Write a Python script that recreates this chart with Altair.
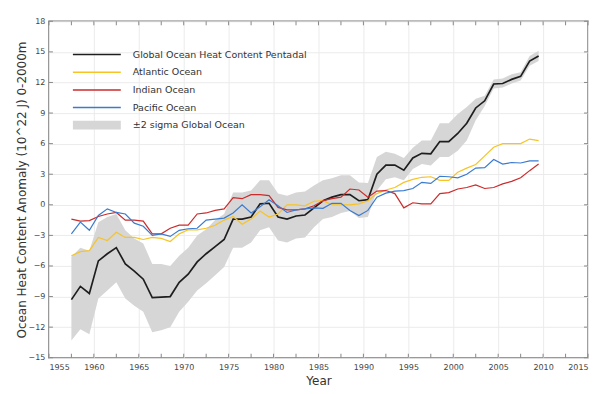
import altair as alt
import pandas as pd

years = [1957.5 + i for i in range(53)]

global_ohc = [-9.3, -8.0, -8.7, -5.5, -4.8, -4.2, -5.8, -6.5, -7.3, -9.1,
              -9.05, -9.0, -7.6, -6.8, -5.6, -4.8, -4.1, -3.4, -1.4, -1.4,
              -1.2, 0.1, 0.15, -1.2, -1.4, -1.1, -1.0, -0.3, 0.4, 0.75,
              1.0, 1.0, 0.4, 0.5, 3.0, 3.9, 3.9, 3.4, 4.6, 5.05,
              5.0, 6.2, 6.2, 7.0, 8.0, 9.5, 10.2, 11.85, 11.9, 12.3,
              12.6, 14.1, 14.6]
band_upper = [-5.1, -4.2, -4.5, -1.7, -1.2, -0.9, -2.5, -3.3, -3.8, -5.8,
              -5.8, -6.0, -5.0, -4.2, -3.0, -2.4, -1.5, -0.9, 1.2, 1.2,
              1.4, 2.4, 2.4, 1.1, 0.9, 1.2, 1.3, 1.9, 2.4, 2.6,
              2.9, 2.9, 2.2, 2.15, 4.7, 5.2, 5.0, 4.6, 5.6, 6.3,
              6.3, 8.0, 8.0, 8.9, 9.6, 10.4, 10.7, 12.3, 12.4, 12.8,
              13.0, 14.6, 15.1]
band_lower = [-13.3, -12.2, -12.7, -9.2, -8.4, -7.6, -9.2, -9.9, -10.5, -12.5,
              -12.3, -12.0, -10.5, -9.5, -8.4, -7.7, -6.9, -6.1, -4.2, -4.2,
              -3.7, -2.5, -2.2, -3.5, -3.7, -3.3, -3.2, -2.2, -1.4, -1.2,
              -0.8, -0.6, -1.3, -1.2, 1.4, 2.5, 2.7, 2.4, 3.5, 4.0,
              3.85, 4.7, 4.7, 5.3, 6.3, 8.3, 9.7, 11.4, 11.5, 11.9,
              12.2, 13.65, 14.1]
atlantic = [-5.0, -4.6, -4.5, -3.2, -3.5, -2.7, -3.2, -3.2, -3.4, -3.2,
            -3.3, -3.6, -2.85, -2.45, -2.45, -2.3, -2.0, -1.5, -1.15, -1.9,
            -1.4, -0.6, -1.2, -0.9, 0.0, 0.0, -0.1, 0.35, 0.4, 0.0,
            0.0, 0.0, 0.1, 0.4, 1.1, 1.45, 1.7, 2.2, 2.5, 2.7,
            2.75, 2.4, 2.4, 3.2, 3.6, 3.95, 4.8, 5.65, 6.0, 6.0,
            6.0, 6.45, 6.3]
indian = [-1.4, -1.6, -1.55, -1.15, -0.9, -0.75, -1.5, -1.5, -1.6, -2.85,
          -2.85, -2.3, -2.0, -2.0, -0.9, -0.8, -0.55, -0.4, 0.7, 0.6,
          1.0, 1.0, 0.9, -0.25, -0.5, -0.5, -0.4, -0.1, 0.4, 0.6,
          0.75, 1.55, 1.45, 0.75, 1.35, 1.4, 1.1, -0.3, 0.2, 0.1,
          0.1, 1.1, 1.2, 1.55, 1.7, 1.95, 1.6, 1.7, 2.05, 2.3,
          2.65, 3.35, 4.0]
pacific = [-2.85, -1.7, -2.5, -1.05, -0.4, -0.75, -0.9, -1.8, -2.1, -3.0,
           -2.85, -3.1, -2.5, -2.35, -2.3, -1.5, -1.4, -1.3, -0.8, 0.0,
           -0.8, -0.2, 0.5, -0.1, -0.75, -0.5, -0.4, -0.3, -0.35, 0.15,
           0.15, -0.55, -1.05, -0.55, 0.75, 1.15, 1.35, 1.4, 1.6, 2.2,
           2.1, 2.8, 2.75, 2.65, 3.0, 3.6, 3.65, 4.45, 4.0, 4.15,
           4.1, 4.3, 4.3]

series_names = ["Global Ocean Heat Content Pentadal", "Atlantic Ocean",
                "Indian Ocean", "Pacific Ocean"]
series_colors = ["#1e1e1e", "#f7c325", "#cc2b2b", "#3a7bd0"]
band_label = "\u00b12 sigma Global Ocean"

x_ticks = [1955 + 2.5 * i for i in range(25)]
x_labels = list(range(1955, 2016, 5))
y_ticks = [-15, -12, -9, -6, -3, 0, 3, 6, 9, 12, 15, 18]

W, H = 540, 337

rows = []
for name, vals in zip(series_names, [global_ohc, atlantic, indian, pacific]):
    for yr, v in zip(years, vals):
        rows.append({"year": yr, "value": v, "series": name})
df_lines = pd.DataFrame(rows)
df_band = pd.DataFrame({"year": years, "upper": band_upper, "lower": band_lower,
                        "label": band_label})
df_xt = pd.DataFrame({"t": x_ticks})
df_yt = pd.DataFrame({"v": y_ticks})

xscale = alt.Scale(domain=[1955, 2015], nice=False, zero=False)
yscale = alt.Scale(domain=[-15, 18], nice=False, zero=False)

x_axis = alt.Axis(values=x_labels, format="d", grid=True,
                  gridColor="#ebebeb", ticks=False, domain=False, labelOverlap=False,
                  labelFontSize=8, labelColor="#444", labelPadding=6,
                  title="Year", titleFontSize=12, titleFontWeight="normal",
                  titleColor="#333", titleY=23, titleBaseline="middle")
y_axis = alt.Axis(values=y_ticks, format="d", grid=True, gridColor="#ebebeb", ticks=False,
                  domain=False, labelOverlap=False, labelBound=False, labelFontSize=8,
                  labelColor="#444", labelPadding=4,
                  title="Ocean Heat Content Anomaly (10^22 J) 0-2000m",
                  titleFontSize=12, titleFontWeight="normal", titleColor="#333",
                  titleX=-27, titleY=H / 2, titleBaseline="middle", titleAlign="center")

band = alt.Chart(df_band).mark_area(strokeWidth=0).encode(
    x=alt.X("year:Q", scale=xscale, axis=x_axis),
    y=alt.Y("upper:Q", scale=yscale, axis=y_axis),
    y2="lower:Q",
    fill=alt.Fill("label:N", scale=alt.Scale(domain=[band_label], range=["#d6d6d6"]),
                  legend=alt.Legend(title=None, orient="none", legendX=0, legendY=99.3,
                                    symbolType="M-6,-1.1H6V1.1H-6Z", symbolSize=64,
                                    symbolStrokeWidth=0, symbolOffset=43.25,
                                    labelOffset=31.25, labelFontSize=9.5, labelLimit=400,
                                    labelColor="#333", padding=0)),
)

color_enc = alt.Color("series:N",
                      scale=alt.Scale(domain=series_names, range=series_colors),
                      legend=alt.Legend(title=None, orient="none", legendX=0, legendY=28.3,
                                        symbolType="M-6,0H6", symbolSize=64,
                                        symbolStrokeWidth=1.5, symbolOffset=43,
                                        labelOffset=31, labelFontSize=9.5, labelLimit=400,
                                        labelColor="#333", rowPadding=7.7, padding=0))

line_global = alt.Chart(df_lines).transform_filter(
    alt.datum.series == series_names[0]
).mark_line(strokeWidth=1.7).encode(
    x=alt.X("year:Q", scale=xscale, axis=x_axis),
    y=alt.Y("value:Q", scale=yscale, axis=y_axis), color=color_enc)

line_others = alt.Chart(df_lines).transform_filter(
    alt.datum.series != series_names[0]
).mark_line(strokeWidth=1.2).encode(
    x=alt.X("year:Q", scale=xscale, axis=x_axis),
    y=alt.Y("value:Q", scale=yscale, axis=y_axis), color=color_enc)

tick_color = "#888"
xt_bottom = alt.Chart(df_xt).mark_rule(color=tick_color, strokeWidth=1).encode(
    x=alt.X("t:Q", scale=xscale, axis=x_axis), y=alt.value(H), y2=alt.value(H - 4))
xt_top = alt.Chart(df_xt).mark_rule(color=tick_color, strokeWidth=1).encode(
    x=alt.X("t:Q", scale=xscale, axis=x_axis), y=alt.value(0), y2=alt.value(4))
yt_left = alt.Chart(df_yt).mark_rule(color=tick_color, strokeWidth=1).encode(
    y=alt.Y("v:Q", scale=yscale, axis=y_axis), x=alt.value(0), x2=alt.value(4))
yt_right = alt.Chart(df_yt).mark_rule(color=tick_color, strokeWidth=1).encode(
    y=alt.Y("v:Q", scale=yscale, axis=y_axis), x=alt.value(W), x2=alt.value(W - 4))

chart = alt.layer(band, line_global, line_others, xt_bottom, xt_top, yt_left, yt_right).properties(
    width=W, height=H,
    autosize=alt.AutoSizeParams(type="none"),
    padding={"left": 41, "top": 13, "right": 20, "bottom": 30},
    background="white",
).configure(
    font="DejaVu Sans",
    view=alt.ViewConfig(stroke="#7a7a7a", strokeWidth=1.5),
)

chart.save("out.html", embed_options={"renderer": "svg", "actions": False})
